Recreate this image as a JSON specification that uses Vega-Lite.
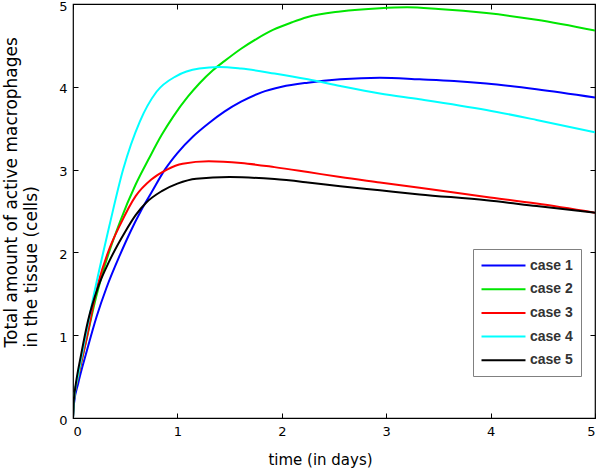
{
  "$schema": "https://vega.github.io/schema/vega-lite/v6.json",
  "width": 522,
  "height": 414,
  "autosize": {"type": "none"},
  "padding": {"left": 73, "top": 4, "right": 5, "bottom": 50},
  "background": "white",
  "data": {"values": [
    {"c":"case 1","t":0,"v":0},{"c":"case 1","t":0.01,"v":0.18},{"c":"case 1","t":0.05,"v":0.42},{"c":"case 1","t":0.13,"v":0.8},{"c":"case 1","t":0.225,"v":1.22},{"c":"case 1","t":0.32,"v":1.57},{"c":"case 1","t":0.45,"v":1.97},{"c":"case 1","t":0.55,"v":2.25},{"c":"case 1","t":0.65,"v":2.5},{"c":"case 1","t":0.75,"v":2.72},{"c":"case 1","t":0.88,"v":3.0},{"c":"case 1","t":1.0,"v":3.2},{"c":"case 1","t":1.15,"v":3.4},{"c":"case 1","t":1.3,"v":3.56},{"c":"case 1","t":1.45,"v":3.7},{"c":"case 1","t":1.61,"v":3.82},{"c":"case 1","t":1.8,"v":3.93},{"c":"case 1","t":2.0,"v":4.0},{"c":"case 1","t":2.25,"v":4.05},{"c":"case 1","t":2.56,"v":4.09},{"c":"case 1","t":2.94,"v":4.11},{"c":"case 1","t":3.32,"v":4.09},{"c":"case 1","t":3.65,"v":4.07},{"c":"case 1","t":3.96,"v":4.04},{"c":"case 1","t":4.44,"v":3.97},{"c":"case 1","t":5.0,"v":3.87},
    {"c":"case 2","t":0,"v":0},{"c":"case 2","t":0.01,"v":0.22},{"c":"case 2","t":0.05,"v":0.5},{"c":"case 2","t":0.13,"v":0.95},{"c":"case 2","t":0.2,"v":1.35},{"c":"case 2","t":0.3,"v":1.82},{"c":"case 2","t":0.45,"v":2.37},{"c":"case 2","t":0.6,"v":2.82},{"c":"case 2","t":0.73,"v":3.14},{"c":"case 2","t":0.85,"v":3.42},{"c":"case 2","t":0.96,"v":3.64},{"c":"case 2","t":1.1,"v":3.88},{"c":"case 2","t":1.21,"v":4.04},{"c":"case 2","t":1.34,"v":4.2},{"c":"case 2","t":1.45,"v":4.31},{"c":"case 2","t":1.61,"v":4.46},{"c":"case 2","t":1.76,"v":4.58},{"c":"case 2","t":1.92,"v":4.69},{"c":"case 2","t":2.1,"v":4.78},{"c":"case 2","t":2.24,"v":4.84},{"c":"case 2","t":2.56,"v":4.91},{"c":"case 2","t":2.94,"v":4.95},{"c":"case 2","t":3.2,"v":4.96},{"c":"case 2","t":3.5,"v":4.94},{"c":"case 2","t":3.96,"v":4.89},{"c":"case 2","t":4.44,"v":4.81},{"c":"case 2","t":5.0,"v":4.68},
    {"c":"case 3","t":0,"v":0},{"c":"case 3","t":0.01,"v":0.22},{"c":"case 3","t":0.05,"v":0.5},{"c":"case 3","t":0.13,"v":0.96},{"c":"case 3","t":0.24,"v":1.62},{"c":"case 3","t":0.35,"v":2.05},{"c":"case 3","t":0.45,"v":2.33},{"c":"case 3","t":0.6,"v":2.68},{"c":"case 3","t":0.75,"v":2.88},{"c":"case 3","t":0.9,"v":3.0},{"c":"case 3","t":1.05,"v":3.07},{"c":"case 3","t":1.3,"v":3.1},{"c":"case 3","t":1.61,"v":3.08},{"c":"case 3","t":1.93,"v":3.03},{"c":"case 3","t":2.25,"v":2.97},{"c":"case 3","t":2.56,"v":2.91},{"c":"case 3","t":2.94,"v":2.845},{"c":"case 3","t":3.32,"v":2.78},{"c":"case 3","t":3.96,"v":2.67},{"c":"case 3","t":4.44,"v":2.59},{"c":"case 3","t":5.0,"v":2.48},
    {"c":"case 4","t":0,"v":0},{"c":"case 4","t":0.01,"v":0.22},{"c":"case 4","t":0.05,"v":0.52},{"c":"case 4","t":0.11,"v":0.92},{"c":"case 4","t":0.195,"v":1.46},{"c":"case 4","t":0.275,"v":1.92},{"c":"case 4","t":0.35,"v":2.33},{"c":"case 4","t":0.48,"v":3.0},{"c":"case 4","t":0.64,"v":3.58},{"c":"case 4","t":0.8,"v":3.94},{"c":"case 4","t":0.99,"v":4.13},{"c":"case 4","t":1.21,"v":4.22},{"c":"case 4","t":1.4,"v":4.24},{"c":"case 4","t":1.61,"v":4.22},{"c":"case 4","t":1.93,"v":4.16},{"c":"case 4","t":2.25,"v":4.09},{"c":"case 4","t":2.56,"v":4.01},{"c":"case 4","t":2.94,"v":3.92},{"c":"case 4","t":3.32,"v":3.85},{"c":"case 4","t":3.96,"v":3.72},{"c":"case 4","t":4.44,"v":3.6},{"c":"case 4","t":5.0,"v":3.45},
    {"c":"case 5","t":0,"v":0},{"c":"case 5","t":0.01,"v":0.25},{"c":"case 5","t":0.02,"v":0.35},{"c":"case 5","t":0.08,"v":0.78},{"c":"case 5","t":0.145,"v":1.18},{"c":"case 5","t":0.24,"v":1.58},{"c":"case 5","t":0.35,"v":1.9},{"c":"case 5","t":0.5,"v":2.25},{"c":"case 5","t":0.6,"v":2.45},{"c":"case 5","t":0.7,"v":2.6},{"c":"case 5","t":0.85,"v":2.74},{"c":"case 5","t":1.0,"v":2.83},{"c":"case 5","t":1.18,"v":2.89},{"c":"case 5","t":1.5,"v":2.91},{"c":"case 5","t":1.93,"v":2.885},{"c":"case 5","t":2.25,"v":2.845},{"c":"case 5","t":2.56,"v":2.8},{"c":"case 5","t":2.94,"v":2.75},{"c":"case 5","t":3.32,"v":2.7},{"c":"case 5","t":3.96,"v":2.63},{"c":"case 5","t":4.44,"v":2.56},{"c":"case 5","t":5.0,"v":2.48}
  ]},
  "layer": [
    {
      "mark": {"type": "line", "strokeWidth": 2, "interpolate": "monotone", "clip": true},
      "encoding": {
        "x": {"field": "t", "type": "quantitative", "scale": {"domain": [0, 5], "nice": false, "zero": false},
          "axis": {"orient": "bottom", "offset": -5, "values": [0,1,2,3,4,5], "title": "time (in days)", "titleX": 247, "titleY": 46, "titleBaseline": "middle", "titleFontSize": 15, "labelPadding": 7}},
        "y": {"field": "v", "type": "quantitative", "scale": {"domain": [0, 5], "nice": false, "zero": false},
          "axis": {"orient": "left", "offset": -5, "values": [0,1,2,3,4,5], "title": ["Total amount of active macrophages", "in the tissue (cells)"], "titleX": -75, "titleY": 343, "titleAlign": "left", "titleBaseline": "top", "titleFontSize": 17, "titleLineHeight": 20, "labelPadding": 6, "labelOffset": 2}},
        "color": {"field": "c", "type": "nominal",
          "scale": {"domain": ["case 1","case 2","case 3","case 4","case 5"], "range": ["#0000ff","#00e600","#ff0000","#00ffff","#000000"]},
          "legend": {"orient": "none", "legendX": 400, "legendY": 245, "title": null, "fillColor": "white", "strokeColor": "#808080", "padding": 8, "symbolType": "M-3,0H3", "symbolSize": 215, "symbolStrokeWidth": 2, "symbolOffset": 14, "labelFontSize": 14, "labelFont": "Liberation Sans", "labelFontWeight": "bold", "labelColor": "#333", "rowPadding": 7.7, "labelOffset": 18}}
      }
    },
    {
      "mark": {"type": "line", "strokeOpacity": 0},
      "encoding": {
        "x": {"field": "t", "type": "quantitative", "axis": {"orient": "top", "offset": -5, "values": [0,1,2,3,4,5], "labels": false, "title": null}},
        "y": {"field": "v", "type": "quantitative", "axis": {"orient": "right", "offset": -5, "values": [0,1,2,3,4,5], "labels": false, "title": null}},
        "detail": {"field": "c"}
      }
    }
  ],
  "resolve": {"axis": {"x": "independent", "y": "independent"}},
  "config": {
    "view": {"stroke": "#000", "strokeWidth": 1.2},
    "axis": {"domain": false, "grid": false, "ticks": true, "tickSize": 5, "tickColor": "#000", "tickWidth": 1,
      "labelFont": "DejaVu Sans", "labelFontSize": 13, "labelColor": "#000",
      "titleFont": "DejaVu Sans", "titleFontSize": 14, "titleFontWeight": "normal", "titleColor": "#000"}
  }
}
